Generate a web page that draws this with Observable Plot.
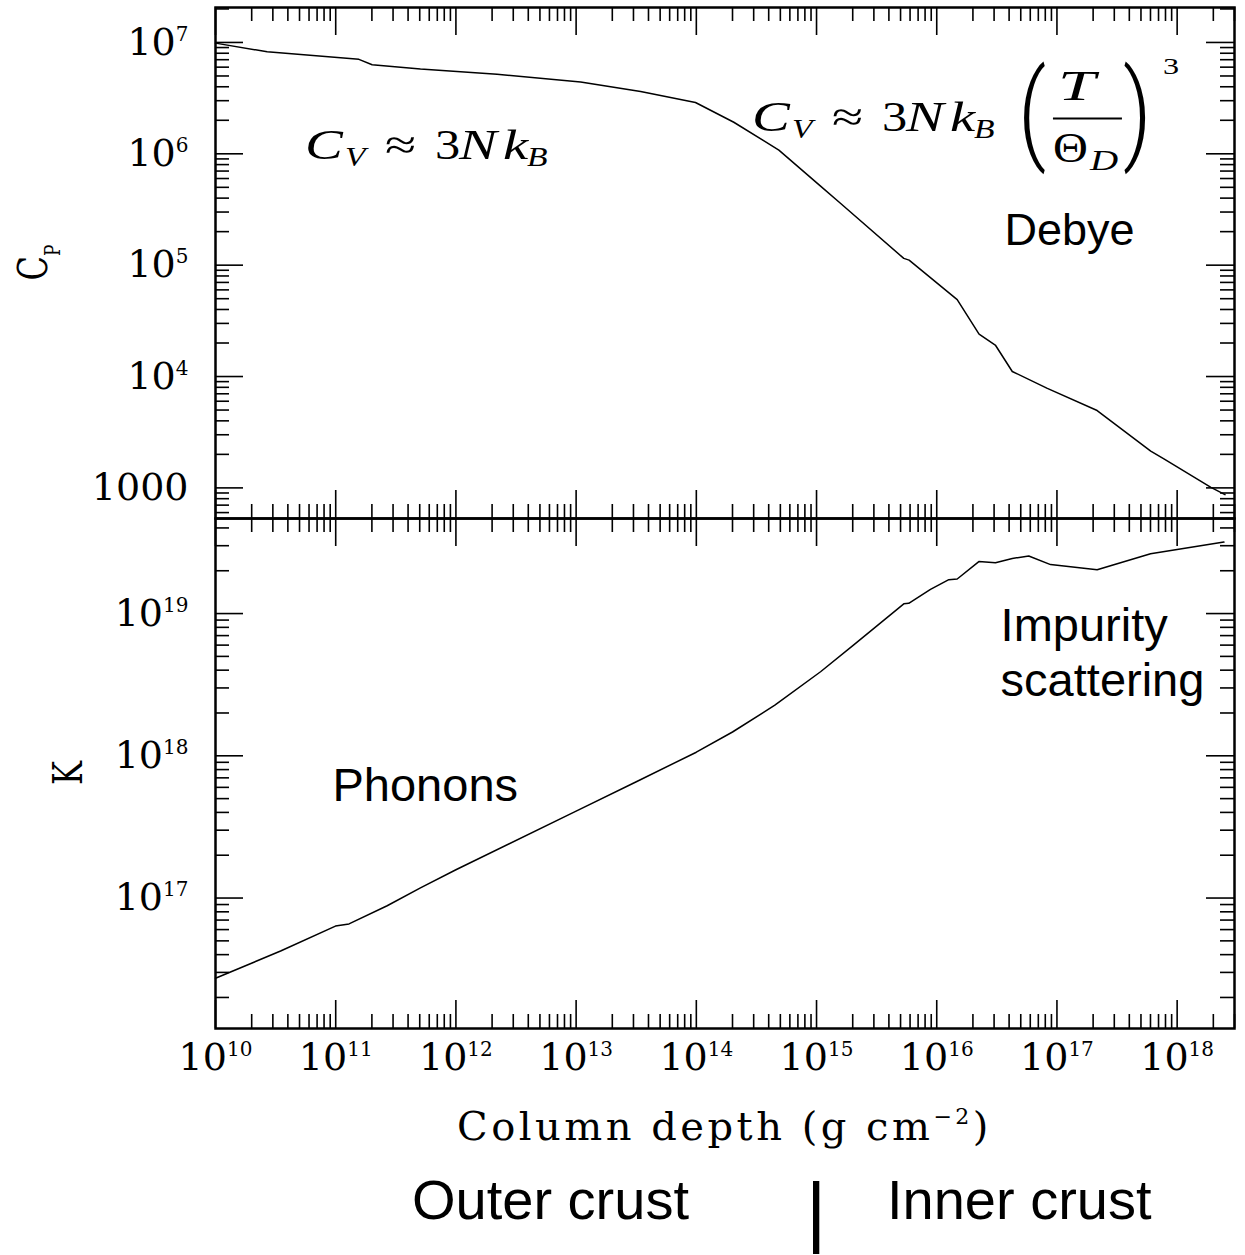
<!DOCTYPE html>
<html>
<head>
<meta charset="utf-8">
<script src="https://cdn.jsdelivr.net/npm/d3@7"></script>
<script src="https://cdn.jsdelivr.net/npm/@observablehq/plot@0.6"></script>
<style>
  html, body { margin: 0; padding: 0; background: #fff; }
  #root { position: relative; width: 1245px; height: 1255px; overflow: hidden; background: #fff; }
  #root svg { position: absolute; left: 0; overflow: visible; }
  .cap { position: absolute; font-family: "Liberation Sans", Arial, sans-serif; color: #000; white-space: nowrap; line-height: 1; }
</style>
</head>
<body>
<div id="root"></div>
<script>
// ---------- data ----------
const depthCp = [1e10, 2.69e10, 1.56e11, 2.01e11, 5.07e11, 2.2e12, 1.09e13, 3.44e13, 9.84e13, 2.05e14,
  4.86e14, 1.08e15, 1.58e15, 5.32e15, 5.89e15, 1.48e16, 2.25e16, 3.09e16, 4.25e16, 8.32e16,
  2.16e17, 6.03e17, 7.76e17, 1.91e18, 2.5e18];
const cpValues = [9.86e6, 8.24e6, 7.05e6, 6.31e6, 5.77e6, 5.19e6, 4.41e6, 3.63e6, 2.89e6, 1.92e6,
  1.08e6, 5.13e5, 3.6e5, 1.15e5, 1.11e5, 4.9e4, 2.4e4, 1.9e4, 1.11e4, 7.82e3,
  4.95e3, 2.14e3, 1.82e3, 1.01e3, 870];

const depthK = [1e10, 3.48e10, 9.95e10, 1.29e11, 2.68e11, 5.07e11, 1e12, 1e13, 3.2e13, 1e14,
  2e14, 4.5e14, 1.08e15, 2.04e15, 5.32e15, 5.85e15, 8.87e15, 1.26e16, 1.48e16, 2.24e16,
  3.08e16, 4.25e16, 5.83e16, 8.85e16, 2.16e17, 6.01e17, 2.45e18];
const kValues = [2.73e16, 4.24e16, 6.35e16, 6.58e16, 8.83e16, 1.18e17, 1.58e17, 4.08e17, 6.6e17, 1.06e18,
  1.47e18, 2.27e18, 3.9e18, 6.03e18, 1.17e19, 1.18e19, 1.48e19, 1.73e19, 1.75e19, 2.32e19,
  2.28e19, 2.44e19, 2.54e19, 2.21e19, 2.03e19, 2.63e19, 3.18e19];

const xDomain = [1e10, 3e18];
const cpDomain = [531, 2.06e7];
const kDomain = [1.21e16, 4.66e19];

const xMajor = [1e10, 1e11, 1e12, 1e13, 1e14, 1e15, 1e16, 1e17, 1e18];
const xTickLabels = ["10^10", "10^11", "10^12", "10^13", "10^14", "10^15", "10^16", "10^17", "10^18"];
const cpMajor = [1e3, 1e4, 1e5, 1e6, 1e7];
const cpTickLabels = ["1000", "10^4", "10^5", "10^6", "10^7"];
const kMajor = [1e17, 1e18, 1e19];
const kTickLabels = ["10^17", "10^18", "10^19"];

const xTitle = "Column depth (g cm";
const xTitleSup = "\u22122";
const cpTitle = "C", cpTitleSub = "P";
const kTitle = "K";

// text annotations (data positions)
const topLabelText = ["Debye"];
const topLabelDepth = [3.66e16];
const topLabelValue = [1.51e5];
const botLabelText = ["Phonons", "Impurity", "scattering"];
const botLabelDepth = [9.4e10, 3.4e16, 3.4e16];
const botLabelValue = [4.79e17, 6.38e18, 2.62e18];
const formulaDepth = [5.6e10, 2.93e14];
const formulaValue = [8.8e5, 1.6e6];

// ---------- layout ----------
const W = 1245, mL = 215, mR = 11;
const topH = 518, topMT = 7;
const botTop = 518, botH = 640, botMB = 130;
const MAJ = 28, MIN = 14;
const frameW = W - mL - mR;
const topFH = topH - topMT;
const botFH = botH - botMB;

const isPow10 = v => Math.abs(Math.log10(v) - Math.round(Math.log10(v))) < 1e-6;
const minorOf = dom => d3.scaleLog().domain(dom).ticks(40).filter(v => !isPow10(v));
const within = (arr, dom) => arr.filter(v => v >= dom[0] && v <= dom[1]);

function tickMarks(yMaj, yMin, fh) {
  const xMaj = within(xMajor, xDomain), xMin = minorOf(xDomain);
  const s = {stroke: "#000", strokeWidth: 1.6};
  return [
    Plot.ruleY(yMaj, {y: d => d, insetRight: frameW - MAJ, ...s}),
    Plot.ruleY(yMaj, {y: d => d, insetLeft: frameW - MAJ, ...s}),
    Plot.ruleY(yMin, {y: d => d, insetRight: frameW - MIN, ...s}),
    Plot.ruleY(yMin, {y: d => d, insetLeft: frameW - MIN, ...s}),
    Plot.ruleX(xMaj, {x: d => d, insetBottom: fh - MAJ, ...s}),
    Plot.ruleX(xMaj, {x: d => d, insetTop: fh - MAJ, ...s}),
    Plot.ruleX(xMin, {x: d => d, insetBottom: fh - MIN, ...s}),
    Plot.ruleX(xMin, {x: d => d, insetTop: fh - MIN, ...s})
  ];
}

const baseStyle = {fontFamily: "'DejaVu Serif', serif", fontSize: "38px", color: "#000", background: "transparent", overflow: "visible"};

const cpRows = depthCp.map((d, i) => ({depth: d, value: cpValues[i]}));
const kRows = depthK.map((d, i) => ({depth: d, value: kValues[i]}));
const topLabels = topLabelText.map((t, i) => ({t, depth: topLabelDepth[i], value: topLabelValue[i]}));
const botLabels = botLabelText.map((t, i) => ({t, depth: botLabelDepth[i], value: botLabelValue[i]}));

const topPlot = Plot.plot({
  width: W, height: topH, marginLeft: mL, marginRight: mR, marginTop: topMT, marginBottom: 0,
  style: baseStyle,
  x: {type: "log", domain: xDomain, axis: null},
  y: {type: "log", domain: cpDomain, axis: null},
  marks: [
    ...tickMarks(within(cpMajor, cpDomain), minorOf(cpDomain), topFH),
    Plot.axisY({anchor: "left", ticks: cpMajor, tickSize: 0, tickPadding: 27, label: null,
      tickFormat: d => cpTickLabels[cpMajor.indexOf(d)]}),
    Plot.line(cpRows, {x: "depth", y: "value", stroke: "#000", strokeWidth: 1.5}),
    Plot.text(topLabels, {x: "depth", y: "value", text: "t", textAnchor: "start", lineAnchor: "bottom",
      fontFamily: "'Liberation Sans', Arial, sans-serif", fontSize: 45}),
    Plot.frame({stroke: "#000", strokeWidth: 2.5})
  ]
});

const botPlot = Plot.plot({
  width: W, height: botH, marginLeft: mL, marginRight: mR, marginTop: 0, marginBottom: botMB,
  style: baseStyle,
  x: {type: "log", domain: xDomain, axis: null},
  y: {type: "log", domain: kDomain, axis: null},
  marks: [
    ...tickMarks(within(kMajor, kDomain), minorOf(kDomain), botFH),
    Plot.axisY({anchor: "left", ticks: kMajor, tickSize: 0, tickPadding: 27, label: null,
      tickFormat: d => kTickLabels[kMajor.indexOf(d)]}),
    Plot.axisX({anchor: "bottom", ticks: xMajor, tickSize: 0, tickPadding: 15, label: null,
      tickFormat: d => xTickLabels[xMajor.indexOf(d)]}),
    Plot.line(kRows, {x: "depth", y: "value", stroke: "#000", strokeWidth: 1.5}),
    Plot.text(botLabels, {x: "depth", y: "value", text: "t", textAnchor: "start", lineAnchor: "bottom",
      fontFamily: "'Liberation Sans', Arial, sans-serif", fontSize: 47}),
    Plot.frame({stroke: "#000", strokeWidth: 2.5})
  ]
});

topPlot.style.top = "0px";
botPlot.style.top = botTop + "px";
const root = document.getElementById("root");
root.appendChild(topPlot);
root.appendChild(botPlot);

// superscripts in tick labels ("10^7" -> 10 with raised 7)
function supify(svg) {
  d3.select(svg).selectAll("text").each(function () {
    const s = this.textContent;
    const i = s.indexOf("^");
    if (i < 0) return;
    const el = d3.select(this);
    this.textContent = "";
    el.append("tspan").text(s.slice(0, i));
    el.append("tspan").attr("font-size", 20).attr("dy", -14).text(s.slice(i + 1));
  });
}
supify(topPlot);
supify(botPlot);

// math formulas
function formula(svg, ax, ay, full) {
  const g = d3.select(svg).append("g").attr("fill", "#000").attr("text-anchor", "start");
  const put = (dx, dy, str, size, italic, sx = 1.35, family = "'Liberation Serif', serif", weight = 400) =>
    g.append("text")
      .attr("text-anchor", "start")
      .attr("transform", `translate(${ax + dx},${ay + dy}) scale(${sx},1)`)
      .attr("font-family", family).attr("font-size", size)
      .attr("font-style", italic ? "italic" : "normal").attr("font-weight", weight)
      .text(str);
  put(0, 0, "C", 42, true);
  put(40, 7, "V", 28, true, 1.2);
  put(80, 0, "\u2248", 42, false);
  put(130, 0, "3", 42, false, 1.2);
  put(154, 0, "N", 42, true);
  put(198, 0, "k", 42, true);
  put(222, 7, "B", 28, true, 1.2);
  if (!full) return;
  put(266, 18, "(", 110, false, 0.8, "Roboto, sans-serif", 300);
  put(306, -31, "T", 42, true, 1.6);
  g.append("line").attr("x1", ax + 301).attr("x2", ax + 370).attr("y1", ay - 12).attr("y2", ay - 12)
    .attr("stroke", "#000").attr("stroke-width", 2);
  put(301, 31, "\u0398", 42, false, 1.15);
  put(338, 39, "D", 30, true, 1.3);
  put(371, 18, ")", 110, false, 0.8, "Roboto, sans-serif", 300);
  put(411, -57, "3", 23, false, 1.4);
}
{
  const xs = topPlot.scale("x"), ys = topPlot.scale("y");
  formula(topPlot, xs.apply(formulaDepth[0]), ys.apply(formulaValue[0]), false);
  formula(topPlot, xs.apply(formulaDepth[1]), ys.apply(formulaValue[1]), true);
}

// y-axis titles
function yTitle(svg, cy, main, sub) {
  const t = d3.select(svg).append("text")
    .attr("transform", `translate(${sub ? 47 : 82},${cy}) rotate(-90) scale(1,1.3)`)
    .attr("text-anchor", "middle").attr("font-family", "'DejaVu Serif', serif").attr("font-size", 32)
    .attr("fill", "#000");
  t.append("tspan").text(main);
  if (sub) t.append("tspan").attr("font-size", 17).attr("dy", 10).text(sub);
}
yTitle(topPlot, (topMT + topH) / 2, cpTitle, cpTitleSub);
yTitle(botPlot, botFH / 2, kTitle, null);

// x-axis title
{
  const t = d3.select(botPlot).append("text")
    .attr("x", (mL + W - mR) / 2).attr("y", 1140 - botTop)
    .attr("text-anchor", "middle").attr("font-family", "'DejaVu Serif', serif").attr("font-size", 40)
    .attr("letter-spacing", "3.5px").attr("fill", "#000");
  t.append("tspan").text(xTitle);
  t.append("tspan").attr("font-size", 22).attr("dy", -16).text(xTitleSup);
  t.append("tspan").attr("dy", 16).text(")");
}

// crust caption below the chart
const captionParts = [
  {text: "Outer crust", left: 412, top: 1172, size: 56},
  {text: "|", left: 806, top: 1172, size: 78},
  {text: "Inner crust", left: 887, top: 1172, size: 56}
];
for (const p of captionParts) {
  const d = document.createElement("div");
  d.className = "cap";
  d.textContent = p.text;
  d.style.left = p.left + "px";
  d.style.top = p.top + "px";
  d.style.fontSize = p.size + "px";
  root.appendChild(d);
}
</script>
</body>
</html>
